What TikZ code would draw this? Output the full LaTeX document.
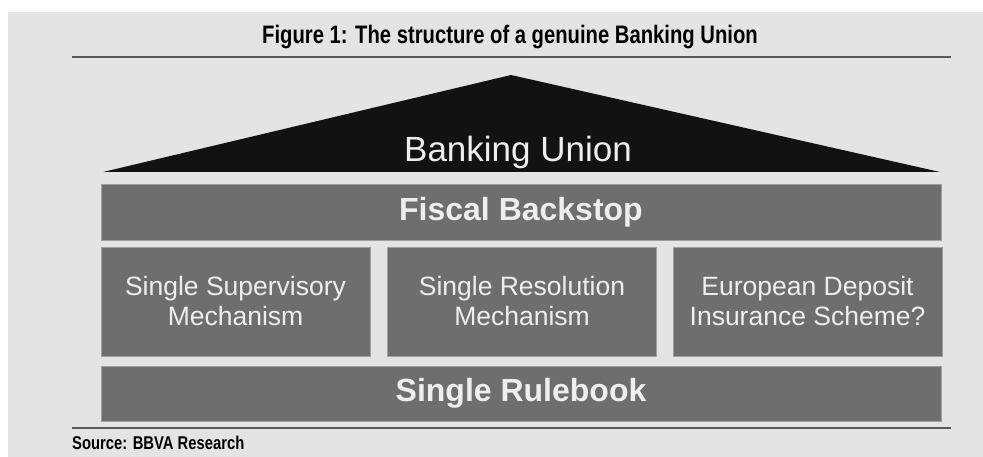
\documentclass[tikz,border=0pt]{standalone}
\usepackage{fontspec}
\setmainfont{Liberation Sans}
\newfontfamily\narrowfont[FakeStretch=0.8]{Liberation Sans}
\usetikzlibrary{positioning}
\definecolor{pagegray}{HTML}{E4E4E4}
\definecolor{boxgray}{HTML}{6E6E6E}
\definecolor{roofblack}{HTML}{121212}
\definecolor{ruleline}{HTML}{5A5A5A}
\definecolor{lettergray}{HTML}{EEEEEE}
\tikzset{
  beam/.style={fill=boxgray, draw=gray!75, line width=0.8pt, minimum width=840pt,
    text=lettergray, font=\fontsize{32}{36}\selectfont\bfseries, inner sep=0pt},
  pillar/.style={fill=boxgray, draw=gray!75, line width=0.8pt, minimum width=269pt,
    minimum height=109pt, text=lettergray, align=center,
    font=\fontsize{26.5}{30}\selectfont, inner sep=0pt},
  rulebar/.style={draw=ruleline, line width=2.6pt}
}

\begin{document}
\begin{tikzpicture}[x=1pt, y=-1pt]
        \useasboundingbox (0,0) rectangle (983,457);
        \fill[white] (0,0) rectangle (983,457);
        \fill[pagegray] (8,12) rectangle (983,457);

        % title and rules
        \node (title) at (510,37) {\narrowfont\bfseries\fontsize{25.3}{28}\selectfont Figure 1: The structure of a genuine Banking Union};
        \coordinate (topL) at (72,57);
        \coordinate (topR) at (951,57);
        \draw[rulebar] (topL) -- (topR);

        % roof
        \fill[roofblack] (103,172) -- (511,75) -- (940,172) -- cycle;
        \node[text=lettergray, font=\fontsize{35}{38}\selectfont] (roof) at (518,152) {Banking Union};

        % beams and pillars
        \node[beam, minimum height=56pt] (backstop) at (521,212) {Fiscal Backstop};
        \node[pillar] (ssm) at (235.5,301.5) {Single Supervisory\\Mechanism};
        \node[pillar] (srm) at (522,301.5) {Single Resolution\\Mechanism};
        \node[pillar] (edis) at (807.5,301.5) {European Deposit\\Insurance Scheme?};
        \node[beam, minimum height=55pt] (rulebook) at (521,393.5) {Single Rulebook};

        % source
        \coordinate (botL) at (72,428);
        \coordinate (botR) at (951,428);
        \draw[rulebar, line width=2pt] (botL) -- (botR);
        \node[anchor=west, inner sep=0pt] (source) at (72,443) {\narrowfont\bfseries\fontsize{18.5}{20}\selectfont Source: BBVA Research};
      \end{tikzpicture}
\end{document}
